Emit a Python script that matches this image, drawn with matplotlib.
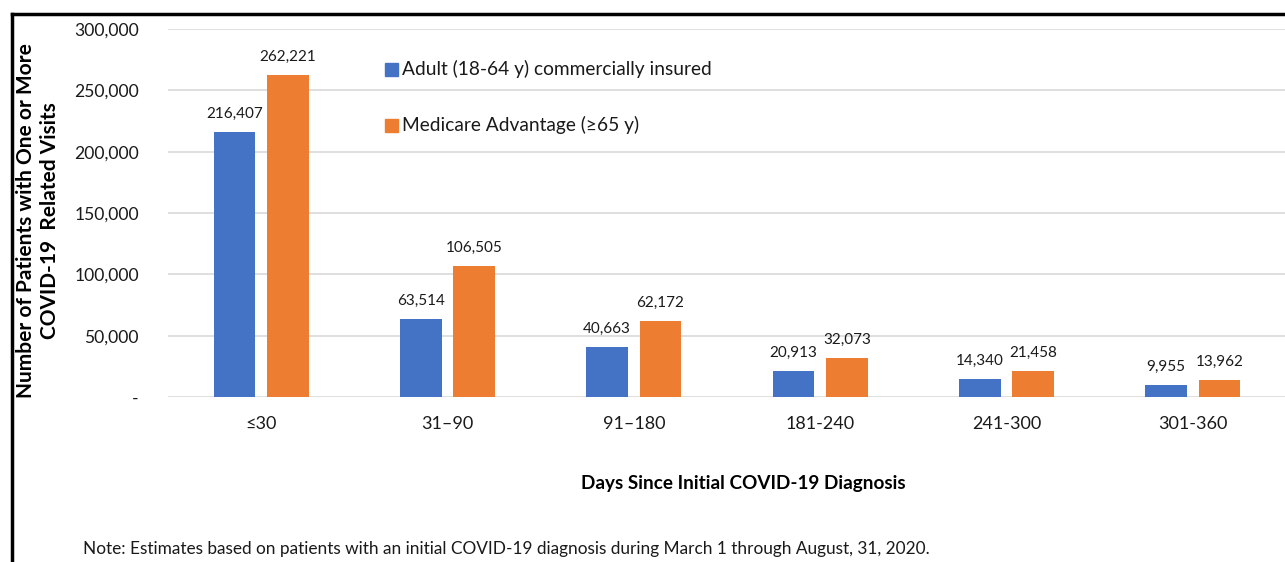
import numpy as np
import matplotlib.pyplot as plt
from matplotlib.lines import Line2D
from matplotlib.patches import Rectangle

plt.rcParams['font.family'] = ['Lato', 'DejaVu Sans']

categories = ["≤30", "31–90", "91–180", "181-240", "241-300", "301-360"]
commercial = [216407, 63514, 40663, 20913, 14340, 9955]
medicare = [262221, 106505, 62172, 32073, 21458, 13962]
series_names = ["Adult (18-64 y) commercially insured", "Medicare Advantage (≥65 y)"]
yticks = [0, 50000, 100000, 150000, 200000, 250000, 300000]

BLUE = "#4472C4"
ORANGE = "#ED7D31"
GRID = "#d9d9d9"
TXT = "#1a1a1a"


def fmt(v):
    return "-" if v == 0 else f"{v:,.0f}"


def main():
    fig = plt.figure(figsize=(12.85, 5.62), dpi=100)
    ax = fig.add_axes([168 / 1285, 1 - 397 / 562, 1118 / 1285, 368 / 562])

    x = np.arange(len(categories))
    w = 0.225
    off = 0.143
    b1 = ax.bar(x - off, commercial, w, color=BLUE, zorder=3)
    b2 = ax.bar(x + off, medicare, w, color=ORANGE, zorder=3)

    for bars, vals in ((b1, commercial), (b2, medicare)):
        for rect, v in zip(bars, vals):
            ax.annotate(fmt(v), (rect.get_x() + rect.get_width() / 2, v),
                        xytext=(0, 8), textcoords="offset points",
                        ha="center", va="bottom", fontsize=11, color=TXT)

    ax.set_xlim(-0.5, len(categories) - 0.5)
    ax.set_ylim(0, 300000)
    ax.set_yticks(yticks)
    ax.set_yticklabels([fmt(v) for v in yticks], fontsize=12.6, color=TXT)
    ax.set_xticks(x)
    ax.set_xticklabels(categories, fontsize=13, color=TXT)
    ax.tick_params(length=0)
    ax.tick_params(axis="y", pad=21)
    ax.tick_params(axis="x", pad=14)
    ax.grid(axis="y", color=GRID, linewidth=1.2, zorder=0)
    for s in ax.spines.values():
        s.set_visible(False)

    # legend placed inside the plot as plain markers + text
    for i, (name, c) in enumerate(zip(series_names, (BLUE, ORANGE))):
        ty = 1 - (69 + 56 * i) / 562
        fig.patches.append(Rectangle((385 / 1285, ty - 6.5 / 562), 13 / 1285, 13 / 562,
                                     transform=fig.transFigure, color=c))
        fig.text(402 / 1285, ty, name, fontsize=13.8, va="center", ha="left",
                 color=TXT)

    fig.text(38 / 1285, 1 - 221 / 562,
             "Number of Patients with One or More\nCOVID-19  Related Visits",
             rotation=90, ha="center", va="center", fontsize=15,
             fontweight="bold", linespacing=1.2, color="black")
    fig.text(743 / 1285, 1 - 483 / 562, "Days Since Initial COVID-19 Diagnosis",
             ha="center", va="center", fontsize=13.6, fontweight="bold",
             color="black")
    fig.text(83 / 1285, 1 - 549 / 562,
             "Note: Estimates based on patients with an initial COVID-19 diagnosis "
             "during March 1 through August, 31, 2020.",
             ha="left", va="center", fontsize=12.4, color=TXT)

    # outer frame (top and left edges)
    fig.add_artist(Line2D([12 / 1285, 1.0], [1 - 14 / 562] * 2,
                          transform=fig.transFigure, color="black", linewidth=2.5))
    fig.add_artist(Line2D([12 / 1285] * 2, [0, 1 - 14 / 562],
                          transform=fig.transFigure, color="black", linewidth=2.5))

    fig.savefig("out.png", dpi=100)


if __name__ == "__main__":
    main()
